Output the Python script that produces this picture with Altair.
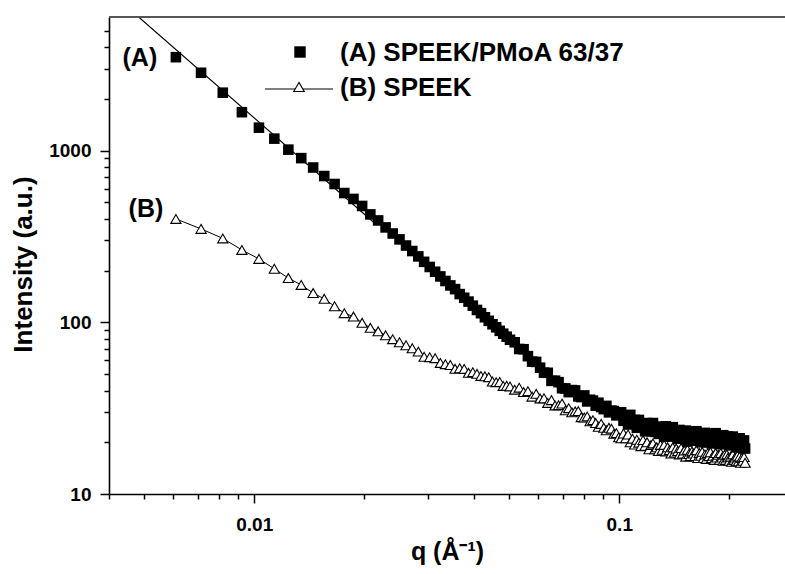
import altair as alt
import pandas as pd

# ---------------- data ----------------
q = [0.0061, 0.00715, 0.0082, 0.00925, 0.0103, 0.01135, 0.0124, 0.01345, 0.0145, 0.01555,
     0.0166, 0.01765, 0.0187, 0.01975, 0.0208, 0.02185, 0.0229, 0.02395, 0.025, 0.02605,
     0.0271, 0.02815, 0.0292, 0.03025, 0.0313, 0.03235, 0.0334, 0.03445, 0.0355, 0.03655,
     0.0376, 0.03865, 0.0397, 0.04075, 0.0418, 0.04285, 0.0439, 0.04495, 0.046, 0.04705,
     0.0481, 0.04915, 0.0502,
     0.0517, 0.0532, 0.0547, 0.0562, 0.0577, 0.0592, 0.0607, 0.0622, 0.0637, 0.0652,
     0.0667, 0.0682, 0.0697, 0.0712, 0.0727, 0.0742, 0.0757, 0.0772, 0.0787, 0.0802,
     0.0817, 0.0832, 0.0847, 0.0862, 0.0877, 0.0892, 0.0907, 0.0922, 0.0937, 0.0952,
     0.0967, 0.0982, 0.0997,
     0.1012, 0.1027, 0.1042, 0.1057, 0.1072, 0.1087, 0.1102, 0.1117, 0.1132, 0.1147,
     0.1162, 0.1177, 0.1192, 0.1207, 0.1222, 0.1237, 0.1252, 0.1267, 0.1282, 0.1297,
     0.1312, 0.1327, 0.1342, 0.1357, 0.1372, 0.1387, 0.1402, 0.1417, 0.1432, 0.1447,
     0.1462, 0.1477, 0.1492, 0.1507, 0.1522, 0.1537, 0.1552, 0.1567, 0.1582, 0.1597,
     0.1612, 0.1627, 0.1642, 0.1657, 0.1672, 0.1687, 0.1702, 0.1717, 0.1732, 0.1747,
     0.1762, 0.1777, 0.1792, 0.1807, 0.1822, 0.1837, 0.1852, 0.1867, 0.1882, 0.1897,
     0.1912, 0.1927, 0.1942, 0.1957, 0.1972, 0.1987, 0.2002, 0.2017, 0.2032, 0.2047,
     0.2062, 0.2077, 0.2092, 0.2107, 0.2122, 0.2137, 0.2152, 0.2167, 0.2182, 0.2197,
     0.2212]

intensity_A = [3500, 2840, 2174, 1674, 1360, 1174, 1013, 904, 797, 711,
               639, 566, 523, 476, 425, 392, 357, 329, 304, 280,
               260, 242, 225, 210, 197, 185, 174, 164, 156, 146,
               139, 132, 125, 118, 113, 107, 102, 97.4, 93.5, 89.2,
               85.8, 82.4, 79.1,
               76.5, 69.9, 69.7, 63.5, 59.0, 58.8, 54.4, 50.9, 50.8, 45.6,
               45.7, 44.8, 41.3, 41.2, 39.2, 40.3, 40.1, 37.0, 36.7, 37.5,
               34.6, 35.4, 35.0, 32.7, 34.0, 32.1, 31.2, 32.6, 29.9, 30.6,
               30.4, 28.7, 29.8,
               29.9, 26.7, 28.3, 25.4, 28.9, 26.1, 27.0, 24.3, 27.0, 24.4,
               25.4, 23.2, 25.9, 24.5, 23.2, 25.9, 23.0, 24.6, 22.4, 24.6,
               23.4, 21.6, 24.8, 22.6, 23.6, 21.6, 24.5, 21.9, 22.9, 21.0,
               23.6, 22.0, 22.9, 21.1, 23.4, 20.2, 22.4, 21.2, 23.0, 20.5,
               21.7, 23.2, 20.5, 22.2, 20.0, 22.4, 21.0, 22.7, 20.0, 21.5,
               20.4, 22.3, 19.7, 21.8, 20.7, 22.6, 20.0, 21.0, 19.5, 21.7,
               20.3, 22.0, 19.6, 21.1, 19.9, 21.6, 19.2, 20.7, 19.9, 21.6,
               19.4, 20.9, 18.7, 21.0, 19.8, 21.1, 18.8, 20.4, 19.1, 20.5,
               18.4]

intensity_B = [400, 350, 308, 264, 234, 205, 181, 165, 148, 137,
               124, 113, 108, 99.3, 92.9, 88.6, 84.0, 79.7, 76.5, 73.5,
               70.6, 67.5, 63.0, 62.6, 61.8, 58.0, 57.0, 56.4, 53.6, 54.0,
               53.5, 50.8, 51.2, 50.1, 48.7, 48.5, 47.9, 45.2, 44.8, 44.9,
               42.6, 42.7, 42.3,
               40.5, 41.6, 39.2, 39.7, 36.9, 38.3, 36.0, 36.1, 33.9, 35.2,
               32.8, 32.9, 33.6, 30.7, 31.6, 29.9, 30.3, 30.4, 28.0, 27.9,
               28.3, 26.5, 26.9, 25.9, 24.6, 25.6, 24.3, 23.5, 24.3, 24.0,
               22.4, 22.6, 21.4,
               21.1, 22.5, 21.1, 22.2, 20.0, 21.0, 19.4, 20.7, 19.9, 19.0,
               20.6, 19.1, 20.0, 18.2, 19.3, 19.7, 18.2, 18.7, 17.8, 19.3,
               18.1, 19.3, 17.7, 18.7, 18.0, 17.2, 18.7, 17.4, 18.4, 17.8,
               17.0, 18.5, 17.2, 17.9, 16.5, 18.1, 17.1, 16.6, 17.7, 17.2,
               16.6, 18.0, 16.2, 17.3, 16.7, 17.6, 16.2, 17.0, 16.0, 17.3,
               16.6, 17.5, 16.2, 16.7, 15.8, 17.3, 16.3, 16.9, 15.8, 17.3,
               16.3, 15.6, 16.9, 15.8, 17.0, 16.3, 15.6, 16.5, 15.4, 17.0,
               15.8, 16.3, 15.5, 16.7, 15.5, 16.5, 15.2, 16.2, 15.6, 16.4,
               15.2]

# power-law fit line through series A (two end points)
fit_q = [0.00471, 0.0215]
fit_I = [6266, 374]

# curve labels placed in data coordinates
label_text = ["(A)", "(B)"]
label_q = [0.00486, 0.00505]
label_I = [3473, 460]

legend_labels = ["(A) SPEEK/PMoA 63/37", "(B) SPEEK"]

x_ticks = [0.004, 0.005, 0.006, 0.007, 0.008, 0.009, 0.01,
           0.02, 0.03, 0.04, 0.05, 0.06, 0.07, 0.08, 0.09, 0.1, 0.2]
y_ticks = [10, 20, 30, 40, 50, 60, 70, 80, 90, 100,
           200, 300, 400, 500, 600, 700, 800, 900, 1000,
           2000, 3000, 4000, 5000]

# ---------------- chart ----------------
FONT = "Liberation Sans"
W, H = 676, 477

df = pd.DataFrame({"q": q, "A": intensity_A, "B": intensity_B})
df_fit = pd.DataFrame({"q": fit_q, "I": fit_I})
df_lab = pd.DataFrame({"q": label_q, "I": label_I, "t": label_text})
df_one = df_lab.head(1)

xscale = alt.Scale(type="log", domain=[0.004, 0.2845], nice=False)
yscale = alt.Scale(type="log", domain=[10, 6000], nice=False)

x_axis = alt.Axis(
    values=x_ticks,
    labelExpr="datum.value == 0.01 ? '0.01' : (datum.value == 0.1 ? '0.1' : '')",
    tickSize={"condition": {"test": "datum.value == 0.01 || datum.value == 0.1", "value": 9}, "value": 5},
    title="q (Å⁻¹)",
    grid=False, domainColor="black", domainWidth=1.6,
    tickColor="black", tickWidth=1.5,
    labelFont=FONT, labelFontSize=19, labelFontWeight="bold", labelColor="black",
    labelPadding=12, labelOverlap=False, labelFlush=False,
    titleFont=FONT, titleFontSize=25, titleFontWeight="bold", titleColor="black",
    titlePadding=5,
)
y_axis = alt.Axis(
    values=y_ticks,
    labelExpr="(datum.value == 10 || datum.value == 100 || datum.value == 1000) ? format(datum.value, 'd') : ''",
    tickSize={"condition": {"test": "datum.value == 10 || datum.value == 100 || datum.value == 1000", "value": 9}, "value": 5},
    title="Intensity (a.u.)",
    grid=False, domainColor="black", domainWidth=1.6,
    tickColor="black", tickWidth=1.5,
    labelFont=FONT, labelFontSize=19, labelFontWeight="bold", labelColor="black",
    labelPadding=9, labelOverlap=False,
    titleFont=FONT, titleFontSize=26, titleFontWeight="bold", titleColor="black",
    titlePadding=12, titleY=247,
)

b_line = alt.Chart(df).mark_line(color="black", strokeWidth=1).encode(
    x=alt.X("q:Q", scale=xscale, axis=x_axis),
    y=alt.Y("B:Q", scale=yscale, axis=y_axis),
)
b_pts = alt.Chart(df).mark_point(shape="triangle-up", size=105, filled=True, fill="white",
                                 stroke="black", strokeWidth=1.1, opacity=1).encode(
    x=alt.X("q:Q", scale=xscale, axis=None),
    y=alt.Y("B:Q", scale=yscale, axis=None),
)
a_pts = alt.Chart(df).mark_square(size=112, color="black", opacity=1).encode(
    x=alt.X("q:Q", scale=xscale, axis=None),
    y=alt.Y("A:Q", scale=yscale, axis=None),
)
fit = alt.Chart(df_fit).mark_line(color="black", strokeWidth=1.2, clip=True).encode(
    x=alt.X("q:Q", scale=xscale, axis=None),
    y=alt.Y("I:Q", scale=yscale, axis=None),
)
labels = alt.Chart(df_lab).mark_text(font=FONT, fontSize=25, fontWeight="bold",
                                     color="black", align="center", baseline="middle").encode(
    x=alt.X("q:Q", scale=xscale, axis=None),
    y=alt.Y("I:Q", scale=yscale, axis=None),
    text="t:N",
)

# top frame line
top_frame = alt.Chart(df_one).mark_rule(color="#555555", strokeWidth=2).encode(
    x=alt.value(0), x2=alt.value(W), y=alt.value(0))

# legend (drawn by hand, positions in pixels of the plot area)
leg_sq = alt.Chart(df_one).mark_square(size=130, color="black", opacity=1).encode(
    x=alt.value(191), y=alt.value(35))
leg_line = alt.Chart(df_one).mark_rule(color="black", strokeWidth=1.2).encode(
    x=alt.value(156), x2=alt.value(224), y=alt.value(72))
leg_tri = alt.Chart(df_one).mark_point(shape="triangle-up", size=110, filled=True,
                                       fill="white", stroke="black", strokeWidth=1.1,
                                       opacity=1).encode(
    x=alt.value(190), y=alt.value(70))
leg_t1 = alt.Chart(df_one).mark_text(font=FONT, fontSize=26, fontWeight="bold", color="black",
                                     align="left", baseline="middle").encode(
    x=alt.value(231), y=alt.value(36), text=alt.value(legend_labels[0]))
leg_t2 = alt.Chart(df_one).mark_text(font=FONT, fontSize=26, fontWeight="bold", color="black",
                                     align="left", baseline="middle").encode(
    x=alt.value(231), y=alt.value(71), text=alt.value(legend_labels[1]))

chart = alt.layer(
    b_line, b_pts, a_pts, fit, labels, top_frame, leg_line, leg_tri, leg_sq, leg_t1, leg_t2
).resolve_axis(x="independent", y="independent").properties(
    width=W, height=H,
    autosize=alt.AutoSizeParams(type="none"),
    padding={"left": 109, "top": 17, "right": 0, "bottom": 80},
    background="white",
).configure_view(strokeWidth=0)

chart.save("out.html", embed_options={"renderer": "svg", "actions": False})
